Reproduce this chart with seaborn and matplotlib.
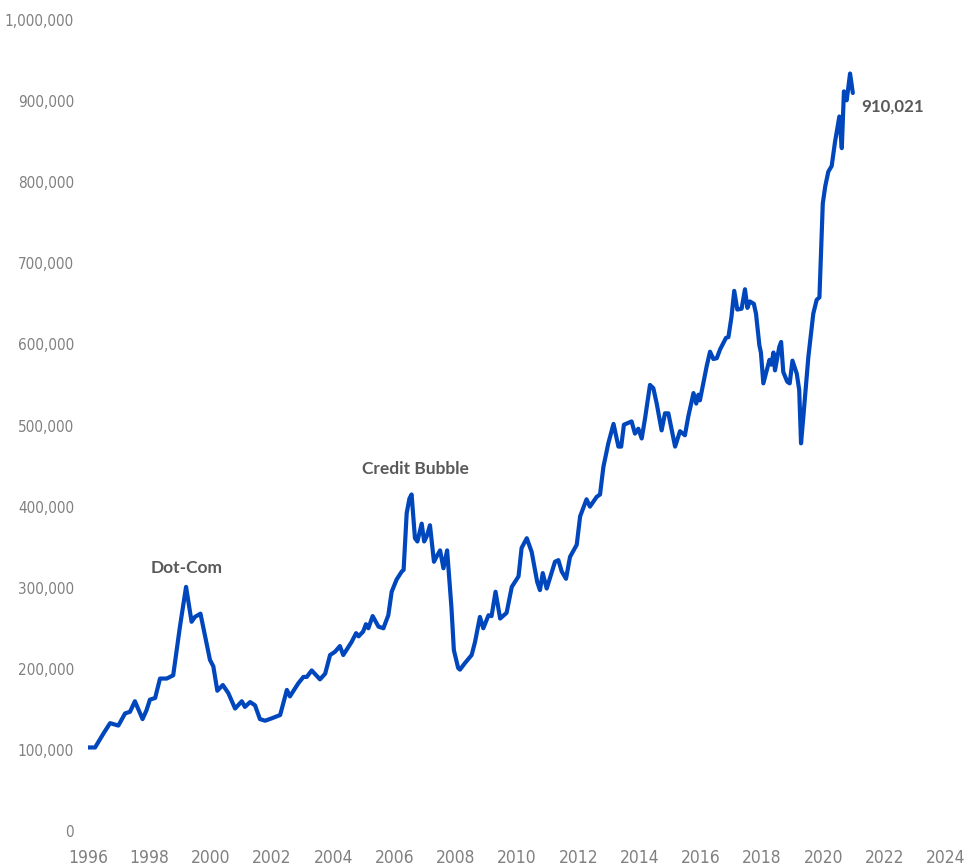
import matplotlib
matplotlib.use("Agg")
import matplotlib.pyplot as plt
import matplotlib.ticker as mticker
import seaborn as sns
import pandas as pd

# Decimal-year dates and index level
years = [
    1996.00, 1996.23, 1996.50, 1996.72, 1996.99, 1997.21, 1997.37, 1997.53, 1997.78, 1997.91,
    1998.02, 1998.19, 1998.35, 1998.57, 1998.78, 1999.00, 1999.20, 1999.38, 1999.49, 1999.67,
    1999.98, 2000.09, 2000.22, 2000.40, 2000.58, 2000.80, 2001.02, 2001.12, 2001.29, 2001.45,
    2001.61, 2001.78, 2002.00, 2002.27, 2002.49, 2002.59, 2002.86, 2003.03, 2003.14, 2003.30,
    2003.57, 2003.74, 2003.90, 2004.06, 2004.22, 2004.33, 2004.50, 2004.60, 2004.75, 2004.83,
    2004.98, 2005.07, 2005.15, 2005.29, 2005.48, 2005.64, 2005.80, 2005.91, 2006.07, 2006.24,
    2006.30, 2006.40, 2006.49, 2006.56, 2006.67, 2006.75, 2006.89, 2006.97, 2007.06, 2007.16,
    2007.29, 2007.37, 2007.49, 2007.60, 2007.72, 2007.86, 2007.94, 2008.08, 2008.14, 2008.30,
    2008.52, 2008.63, 2008.79, 2008.90, 2009.07, 2009.17, 2009.30, 2009.45, 2009.66, 2009.83,
    2010.05, 2010.15, 2010.32, 2010.48, 2010.66, 2010.75, 2010.84, 2010.97, 2011.24, 2011.35,
    2011.46, 2011.60, 2011.73, 2011.95, 2012.06, 2012.27, 2012.38, 2012.60, 2012.71, 2012.82,
    2012.98, 2013.15, 2013.31, 2013.40, 2013.49, 2013.74, 2013.85, 2013.96, 2014.07, 2014.18,
    2014.34, 2014.45, 2014.56, 2014.72, 2014.83, 2014.94, 2015.16, 2015.32, 2015.48, 2015.59,
    2015.76, 2015.85, 2015.92, 2015.97, 2016.08, 2016.19, 2016.30, 2016.41, 2016.52, 2016.63,
    2016.82, 2016.90, 2017.00, 2017.09, 2017.19, 2017.33, 2017.44, 2017.52, 2017.60, 2017.73,
    2017.80, 2017.91, 2017.96, 2018.04, 2018.15, 2018.24, 2018.30, 2018.37, 2018.42, 2018.56,
    2018.62, 2018.69, 2018.82, 2018.90, 2018.99, 2019.13, 2019.21, 2019.27, 2019.35, 2019.51,
    2019.67, 2019.78, 2019.87, 2019.98, 2020.06, 2020.16, 2020.27, 2020.38, 2020.52, 2020.60,
    2020.67, 2020.76, 2020.87, 2020.96,
]
values = [
    103000, 103000, 120000, 133000, 130000, 145000, 147000, 160000, 138000, 149000,
    162000, 164000, 188000, 188000, 192000, 252000, 301000, 258000, 264000, 268000,
    211000, 203000, 173000, 180000, 170000, 151000, 160000, 153000, 159000, 155000,
    138000, 136000, 139000, 143000, 174000, 166000, 182000, 190000, 190000, 198000,
    187000, 194000, 217000, 221000, 228000, 217000, 227000, 233000, 244000, 240000,
    246000, 255000, 250000, 265000, 252000, 250000, 266000, 295000, 310000, 320000,
    322000, 392000, 410000, 415000, 361000, 357000, 379000, 357000, 364000, 377000,
    332000, 338000, 346000, 324000, 346000, 276000, 223000, 201000, 199000, 207000,
    217000, 233000, 264000, 250000, 266000, 265000, 295000, 262000, 269000, 301000,
    314000, 349000, 361000, 344000, 307000, 297000, 318000, 299000, 332000, 334000,
    320000, 311000, 338000, 353000, 388000, 409000, 400000, 412000, 415000, 449000,
    478000, 502000, 474000, 474000, 501000, 505000, 490000, 496000, 484000, 509000,
    550000, 546000, 527000, 494000, 515000, 515000, 474000, 493000, 488000, 511000,
    540000, 527000, 538000, 531000, 552000, 573000, 591000, 582000, 583000, 594000,
    608000, 609000, 634000, 666000, 643000, 644000, 668000, 645000, 653000, 650000,
    638000, 599000, 590000, 552000, 568000, 581000, 575000, 590000, 568000, 597000,
    603000, 566000, 554000, 552000, 580000, 564000, 544000, 478000, 513000, 585000,
    638000, 655000, 658000, 774000, 795000, 813000, 820000, 850000, 881000, 842000,
    912000, 901000, 934000, 910021,
]

x_ticks = list(range(1996, 2025, 2))
y_ticks = list(range(0, 1000001, 100000))

events = ["Dot-Com", "Credit Bubble"]
event_x = [1999.23, 2006.70]
event_y = [324000, 446000]

df = pd.DataFrame({"year": years, "value": values})

sns.set_theme(style="white")
plt.rcParams["font.family"] = ["DejaVu Sans"]
plt.rcParams["font.stretch"] = "condensed"

fig = plt.figure(figsize=(9.64, 8.66), dpi=100)
ax = fig.add_axes([0.0913, 0.0404, 0.89, 0.9365])

line_color = "#0047BD"
sns.lineplot(data=df, x="year", y="value", ax=ax, color=line_color,
             linewidth=3.0, estimator=None, sort=False,
             solid_joinstyle="round", solid_capstyle="round")

ax.set_xlim(1996, 2024)
ax.set_ylim(0, 1000000)
ax.set_xticks(x_ticks)
ax.set_yticks(y_ticks)
ax.yaxis.set_major_formatter(mticker.FuncFormatter(lambda v, p: f"{v:,.0f}"))
ax.set_xlabel("")
ax.set_ylabel("")
for s in ax.spines.values():
    s.set_visible(False)
ax.grid(False)

tick_color = "#808080"
ax.tick_params(axis="x", length=0, pad=13, labelsize=12.5, labelcolor=tick_color)
ax.tick_params(axis="y", length=0, pad=10, labelsize=11.0, labelcolor=tick_color)
for lbl in ax.get_xticklabels() + ax.get_yticklabels():
    lbl.set_clip_on(False)
    lbl.set_fontstretch("condensed")

label_color = "#595959"
for name, ex, ey in zip(events, event_x, event_y):
    ax.text(ex, ey, name, ha="center", va="center", fontsize=12.5,
            fontweight="bold", color=label_color, family=["Lato", "DejaVu Sans"])

# Latest value callout
ax.annotate(f"{values[-1]:,}", xy=(years[-1], values[-1]), xytext=(6, -10),
            textcoords="offset points", ha="left", va="center", fontsize=12.2,
            fontweight="bold", color=label_color, family=["Lato", "DejaVu Sans"])

fig.savefig("out.png", dpi=100)
